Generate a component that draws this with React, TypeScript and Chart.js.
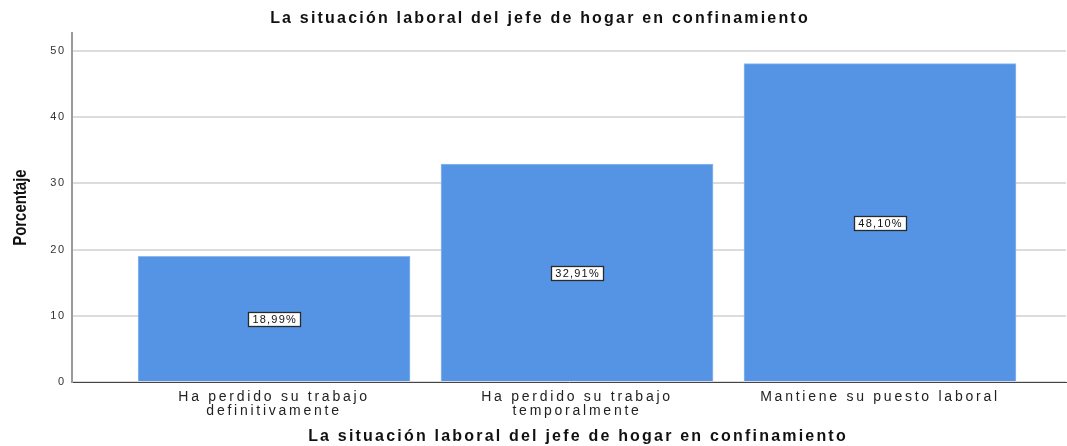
import React, { useEffect, useRef } from "react";
import { Chart, registerables } from "chart.js";

Chart.register(...registerables);

const titleText = "La situación laboral del jefe de hogar en confinamiento";
const yTitleText = "Porcentaje";
const categories: string[][] = [
  ["Ha perdido su trabajo", "definitivamente"],
  ["Ha perdido su trabajo", "temporalmente"],
  ["Mantiene su puesto laboral"],
];
const percentages = [18.99, 32.91, 48.1];
const valueLabels = ["18,99%", "32,91%", "48,10%"];
const yTicks = [0, 10, 20, 30, 40, 50];

const FONT = "'Liberation Sans', Arial, sans-serif";

function withSpacing(fn: () => void, ctx: any, spacing: string, dx = 0) {
  ctx.save();
  ctx.letterSpacing = spacing;
  if (dx) ctx.translate(dx, 0);
  fn();
  ctx.restore();
}

function patchScale(scale: any, labelSpacing: string, titleSpacing: string, titleDx = 0) {
  if (scale.__patched) return;
  scale.__patched = true;
  const origLabels = scale.drawLabels.bind(scale);
  const origTitle = scale.drawTitle.bind(scale);
  scale.drawLabels = (area: any) => withSpacing(() => origLabels(area), scale.ctx, labelSpacing);
  scale.drawTitle = (area: any) => withSpacing(() => origTitle(area), scale.ctx, titleSpacing, titleDx);
}

const spacingPlugin = {
  id: "spacing",
  beforeDraw(chart: any) {
    chart.ctx.letterSpacing = "2.2px";
  },
  afterDraw(chart: any) {
    chart.ctx.letterSpacing = "0px";
  },
};

const yTitlePlugin = {
  id: "yTitle",
  afterDraw(chart: any) {
    const ctx = chart.ctx;
    const area = chart.chartArea;
    ctx.save();
    ctx.letterSpacing = "0px";
    ctx.font = "bold 18px " + FONT;
    ctx.fillStyle = "#111111";
    ctx.textAlign = "center";
    ctx.textBaseline = "alphabetic";
    ctx.translate(26, (area.top + area.bottom) / 2);
    ctx.rotate(-Math.PI / 2);
    ctx.scale(0.83, 1);
    ctx.fillText(yTitleText, 0, 0);
    ctx.restore();
  },
};

const barLabelPlugin = {
  id: "barLabels",
  afterDatasetsDraw(chart: any) {
    const ctx = chart.ctx;
    const meta = chart.getDatasetMeta(0);
    const yScale = chart.scales.y;
    ctx.save();
    ctx.letterSpacing = "1.2px";
    ctx.font = "11px " + FONT;
    ctx.textAlign = "center";
    ctx.textBaseline = "middle";
    meta.data.forEach((bar: any, i: number) => {
      const x = bar.x;
      const y = yScale.getPixelForValue(percentages[i] / 2);
      const text = valueLabels[i];
      const w = Math.round(ctx.measureText(text).width + 7);
      const h = 14;
      const bx = Math.round(x - w / 2) + 0.5;
      const by = Math.round(y - h / 2) + 0.5;
      ctx.fillStyle = "#ffffff";
      ctx.fillRect(bx, by, w, h);
      ctx.strokeStyle = "#2a2a2a";
      ctx.lineWidth = 1.3;
      ctx.strokeRect(bx, by, w, h);
      ctx.fillStyle = "#111111";
      ctx.fillText(text, x + 0.6, y + 1);
    });
    ctx.restore();
  },
};

export default function App() {
  const canvasRef = useRef<HTMLCanvasElement | null>(null);

  useEffect(() => {
    document.body.style.margin = "0";
    const canvas = canvasRef.current;
    if (!canvas) return;
    const chart = new Chart(canvas, {
      type: "bar",
      data: {
        datasets: [
          {
            data: percentages.map((v, i) => ({ x: i, y: v })),
            backgroundColor: "#5594e4",
            borderColor: "#8fb8ee",
            borderWidth: 1,
            barThickness: 272,
          },
        ],
      },
      plugins: [spacingPlugin, barLabelPlugin, yTitlePlugin],
      options: {
        animation: false,
        responsive: false,
        maintainAspectRatio: false,
        layout: { padding: { left: 14, right: 1, top: 0, bottom: 0 } },
        plugins: {
          legend: { display: false },
          tooltip: { enabled: false },
          title: {
            display: true,
            text: titleText,
            color: "#111111",
            font: { family: FONT, size: 16, weight: "bold" },
            padding: { top: 9, bottom: 5 },
          },
        },
        scales: {
          x: {
            type: "linear",
            offset: false,
            min: -0.667,
            max: 2.614,
            afterBuildTicks: (scale: any) => {
              scale.ticks = categories.map((_, i) => ({ value: i }));
            },
            afterFit: (scale: any) => {
              scale.height = 64;
            },
            afterUpdate: (scale: any) => patchScale(scale, "2.75px", "2.2px", 9),
            grid: { color: "rgba(0,0,0,0)", drawTicks: false, offset: false },
            border: { display: true, color: "#444444", width: 1 },
            ticks: {
              autoSkip: false,
              maxRotation: 0,
              padding: 8,
              color: "#222222",
              font: { family: FONT, size: 14, lineHeight: 1.0 },
              callback: (v: any) => {
                const idx = Math.round(Number(v));
                return categories[idx] ?? "";
              },
            },
            title: {
              display: true,
              text: titleText,
              color: "#111111",
              font: { family: FONT, size: 16, weight: "bold" },
              padding: { top: 0, bottom: 0 },
            },
          },
          y: {
            min: 0,
            max: 52.7,
            afterBuildTicks: (scale: any) => {
              scale.ticks = yTicks.map((v) => ({ value: v }));
            },
            afterFit: (scale: any) => {
              scale.width = 58;
            },
            afterUpdate: (scale: any) => patchScale(scale, "1.8px", "0px"),
            grid: { color: "#dcdcdc", lineWidth: 2, drawTicks: false },
            border: { display: true, color: "#9a9a9a", width: 2 },
            ticks: {
              padding: 6,
              color: "#333333",
              font: { family: FONT, size: 11 },
            },
            title: { display: false },
          },
        },
      },
    } as any);
    return () => chart.destroy();
  }, []);

  return (
    <div style={{ position: "absolute", left: 0, top: 0, width: 1067, height: 446, background: "#fff" }}>
      <canvas ref={canvasRef} width={1067} height={446} style={{ display: "block", width: 1067, height: 446 }} />
    </div>
  );
}
